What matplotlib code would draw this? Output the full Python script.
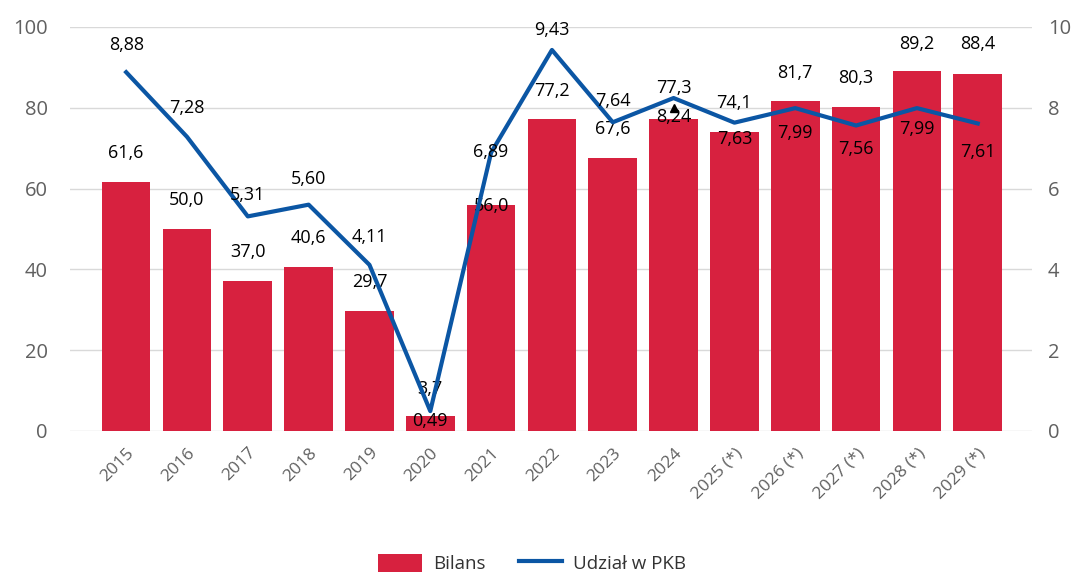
import matplotlib.pyplot as plt
import numpy as np

years = ["2015", "2016", "2017", "2018", "2019", "2020", "2021", "2022", "2023", "2024",
         "2025 (*)", "2026 (*)", "2027 (*)", "2028 (*)", "2029 (*)"]
bilans = [61.6, 50.0, 37.0, 40.6, 29.7, 3.7, 56.0, 77.2, 67.6, 77.3, 74.1, 81.7, 80.3, 89.2, 88.4]
udzial = [8.88, 7.28, 5.31, 5.60, 4.11, 0.49, 6.89, 9.43, 7.64, 8.24, 7.63, 7.99, 7.56, 7.99, 7.61]

# label offsets in pixels (negative = above the mark)
bar_off = [-29, -29, -29, -29, -29, -27, 1, -28, -29, -31, -29, -28, -29, -27, -30]
line_off = [-27, -29, -21, -26, -28, 10, -1, -20, -21, 19, 16, 25, 24, 21, 29]

RED = "#D7213F"
BLUE = "#0B56A4"
plt.rcParams['font.family'] = ['Open Sans', 'DejaVu Sans']

def fmt(v, d):
    return f"{v:.{d}f}".replace(".", ",")

fig = plt.figure(figsize=(10.8, 5.73), dpi=100)
ax = fig.add_axes([0.065, 0.248, 0.891, 0.705])
ax2 = ax.twinx()

x = np.arange(len(years))
ax.bar(x, bilans, width=0.8, color=RED, zorder=2, label="Bilans")
ax.set_ylim(0, 100)
ax.set_xlim(-0.92, len(years) - 0.1)
ax.set_yticks(range(0, 101, 20))
ax.grid(axis='y', color='#d9d9d9', linewidth=1, zorder=0)
ax.set_axisbelow(True)

ax2.plot(x, udzial, color=BLUE, linewidth=3, zorder=3, label="Udział w PKB")
ax2.plot(x[9], udzial[9] - 0.25, marker='^', color='black', markersize=6, zorder=4)
ax2.set_ylim(0, 10)
ax2.set_yticks(range(0, 11, 2))

for a in (ax, ax2):
    for s in a.spines.values():
        s.set_visible(False)
    a.tick_params(length=0, labelsize=14.5, colors='#606060')
ax.tick_params(axis='y', pad=16)
ax2.tick_params(axis='y', pad=11)

ax.set_xticks(x)
ax.set_xticklabels(years, rotation=45, ha='right', rotation_mode='anchor', fontsize=12.5)
ax.tick_params(axis='x', pad=10)

px = 0.72
for i, v in enumerate(bilans):
    ax.annotate(fmt(v, 1), (x[i], v), xytext=(0, -bar_off[i] * px), textcoords='offset points',
                ha='center', va='center', fontsize=13, color='black', zorder=2)
for i, v in enumerate(udzial):
    ax2.annotate(fmt(v, 2), (x[i], v), xytext=(0, -line_off[i] * px), textcoords='offset points',
                 ha='center', va='center', fontsize=13, color='black', zorder=5)

h1, l1 = ax.get_legend_handles_labels()
h2, l2 = ax2.get_legend_handles_labels()
fig.legend(h1 + h2, l1 + l2, loc='center', bbox_to_anchor=(0.493, 0.017), ncol=2,
           frameon=False, fontsize=13.5, handlelength=2.3, handleheight=1.1, columnspacing=1.8,
           handletextpad=0.6, labelcolor='#333333')

fig.savefig("out.png", dpi=100)
